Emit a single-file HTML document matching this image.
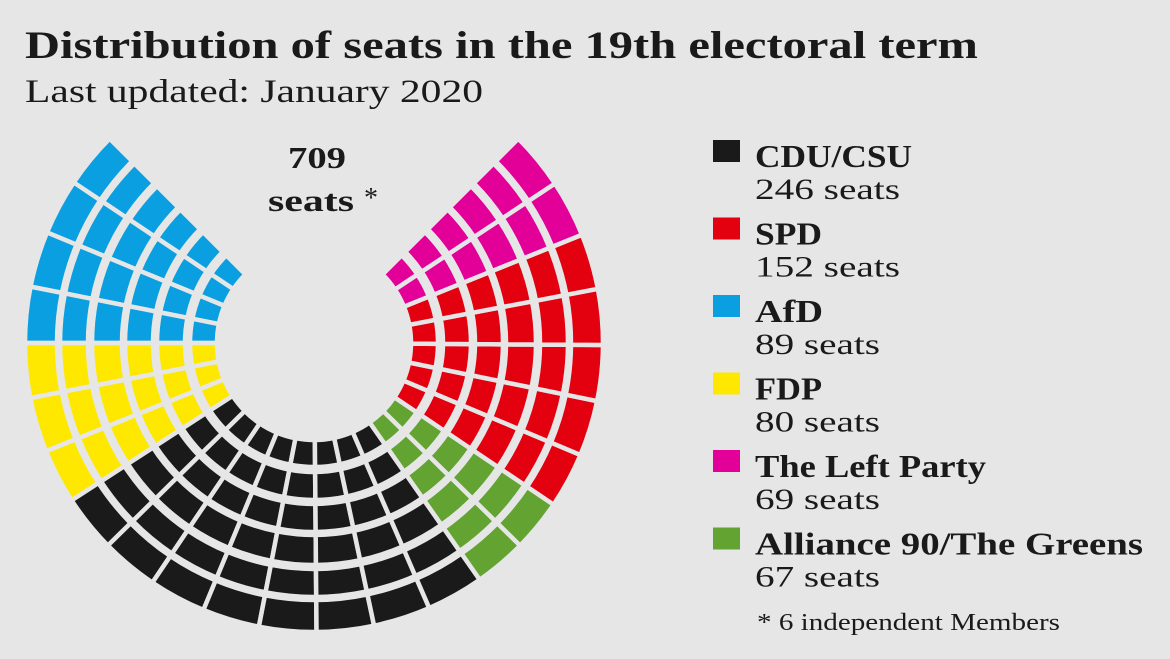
<!DOCTYPE html>
<html><head><meta charset="utf-8"><style>
html,body{margin:0;padding:0;background:#e6e6e6;}
svg{display:block;}
text{font-family:"Liberation Serif",serif;fill:#1a1a1a;}
.b{font-weight:bold;}
</style></head><body>
<svg id="s" width="1170" height="659" viewBox="0 0 1170 659" xmlns="http://www.w3.org/2000/svg">
<rect width="1170" height="659" fill="#e6e6e6"/>
<g id="seats"></g>
<text class="b" x="25" y="58" font-size="39" textLength="953" lengthAdjust="spacingAndGlyphs">Distribution of seats in the 19th electoral term</text>
<text x="25" y="102" font-size="33" textLength="458" lengthAdjust="spacingAndGlyphs">Last updated: January 2020</text>
<text class="b" x="288" y="168" font-size="31" textLength="58" lengthAdjust="spacingAndGlyphs">709</text>
<text class="b" x="268" y="211" font-size="31" textLength="86" lengthAdjust="spacingAndGlyphs">seats</text>
<text x="364" y="207" font-size="28">*</text>
<g id="legend"></g>
<text x="757" y="630" font-size="24" textLength="303" lengthAdjust="spacingAndGlyphs">* 6 independent Members</text>
</svg>
<script>
var cx=314,cy=343;
var rings=[[97,124],[129,157],[161,189],[192,222],[226,254],[257,289]];
var parties=[
 ["#0a9fe0",135,180,4],
 ["#ffe800",180,213,3],
 ["#1a1a1a",213,305,8],
 ["#62a331",305,326,2],
 ["#e3000f",326,382,5],
 ["#e20099",382,405,2]
];
function pt(r,a){var t=a*Math.PI/180;return (cx+r*Math.cos(t)).toFixed(2)+","+(cy-r*Math.sin(t)).toFixed(2);}
var h="";
parties.forEach(function(p){
 var n=p[3],st=(p[2]-p[1])/n;
 rings.forEach(function(rg){
  for(var i=0;i<n;i++){
   var a1=p[1]+i*st,a2=a1+st;
   h+='<path d="M'+pt(rg[0],a1)+' L'+pt(rg[1],a1)+' A'+rg[1]+','+rg[1]+' 0 0 0 '+pt(rg[1],a2)+' L'+pt(rg[0],a2)+' A'+rg[0]+','+rg[0]+' 0 0 1 '+pt(rg[0],a1)+' Z" fill="'+p[0]+'" stroke="#e6e6e6" stroke-width="4.5"/>';
  }
 });
});
document.getElementById("seats").innerHTML=h;
var leg=[["#1a1a1a","CDU/CSU","246 seats",157,145],["#e3000f","SPD","152 seats",67,145],["#0a9fe0","AfD","89 seats",68,125],["#ffe800","FDP","80 seats",67,125],["#e20099","The Left Party","69 seats",231,125],["#62a331","Alliance 90/The Greens","67 seats",388,125]];
var lh="";
leg.forEach(function(l,i){
 var y=140+i*77.5;
 lh+='<rect x="713" y="'+y+'" width="27" height="22" fill="'+l[0]+'"/>';
 lh+='<text class="b" x="755" y="'+(y+27)+'" font-size="32" textLength="'+l[3]+'" lengthAdjust="spacingAndGlyphs">'+l[1]+'</text>';
 lh+='<text x="755" y="'+(y+59)+'" font-size="30" textLength="'+l[4]+'" lengthAdjust="spacingAndGlyphs">'+l[2]+'</text>';
});
document.getElementById("legend").innerHTML=lh;
</script>
</body></html>
